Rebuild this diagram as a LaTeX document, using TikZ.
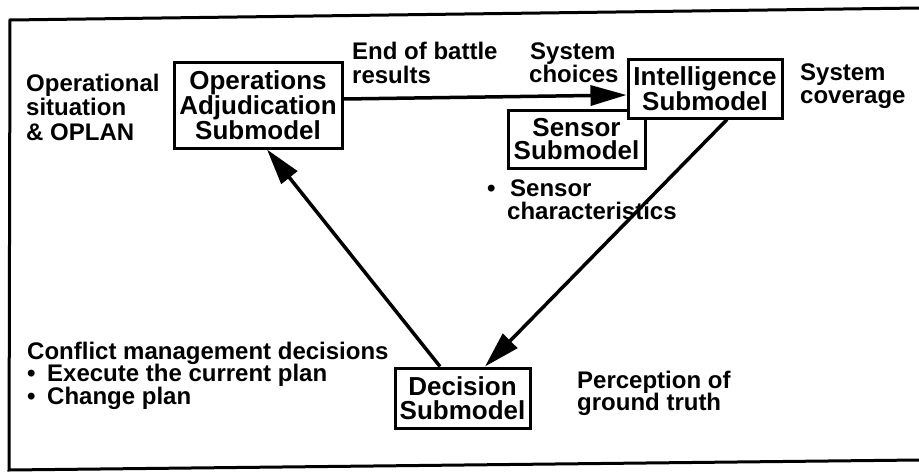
\documentclass[tikz,border=0pt]{standalone}
\usepackage{fontspec}
\setmainfont{Liberation Sans}
\usetikzlibrary{arrows.meta}
\begin{document}
\begin{tikzpicture}[x=1pt,y=-1pt,
  box/.style={draw,line width=3pt,fill=white,inner sep=0pt,align=center,font=\fontsize{26}{23.5}\selectfont\bfseries},
  txt/.style={anchor=base west,inner sep=0pt,font=\fontsize{24}{24}\selectfont\bfseries},
  conn/.style={line width=3.5pt,-{Triangle[length=36pt,width=20pt]}},
  frameline/.style={line width=3pt}]
\useasboundingbox (0,0) rectangle (919,474);
% frame
\coordinate (f1) at (919,8);
\coordinate (f2) at (10,20);
\coordinate (f3) at (9,470);
\coordinate (f4) at (919,460);
\draw[frameline] (f1) -- (f2) -- (f3) -- (f4);
% boxes
\node[box,minimum width=168pt,minimum height=86pt] (ops) at (258,105) {Operations\\Adjudication\\Submodel};
\node[box,minimum width=137pt,minimum height=58pt] (sensor) at (576.5,139) {Sensor\\Submodel};
\node[box,minimum width=154pt,minimum height=59pt] (intel) at (705,88.5) {Intelligence\\Submodel};
\node[box,minimum width=135pt,minimum height=60pt] (dec) at (462.5,398) {Decision\\Submodel};
% connectors
\draw[conn] ([yshift=6pt]ops.east) -- ([yshift=-6.5pt]intel.west);
\draw[conn] ([xshift=22pt]intel.south) -- ([xshift=22.5pt]dec.north);
\draw[conn] ([xshift=-22.5pt]dec.north) -- ([xshift=9pt]ops.south);
% texts
\node[txt] (t1) at (26,91) {Operational};
\node[txt] (t2) at (26,115) {situation};
\node[txt] (t3) at (26,140) {\& OPLAN};
\node[txt] (t4) at (352,59) {End of battle};
\node[txt] (t5) at (352,83) {results};
\node[txt] (t6) at (530,59) {System};
\node[txt] (t7) at (529,82) {choices};
\node[txt] (t8) at (800,80) {System};
\node[txt] (t9) at (800,103) {coverage};
\node[txt] (t10) at (487,196) {•};
\node[txt] (t11) at (510,196) {Sensor};
\node[txt] (t12) at (507,219) {characteristics};
\node[txt] (t13) at (27,359) {Conflict management decisions};
\node[txt] (t14) at (27,381) {•};
\node[txt] (t15) at (47,381) {Execute the current plan};
\node[txt] (t16) at (27,404) {•};
\node[txt] (t17) at (47,404) {Change plan};
\node[txt] (t18) at (577,388) {Perception of};
\node[txt] (t19) at (577,410) {ground truth};
\end{tikzpicture}
\end{document}
